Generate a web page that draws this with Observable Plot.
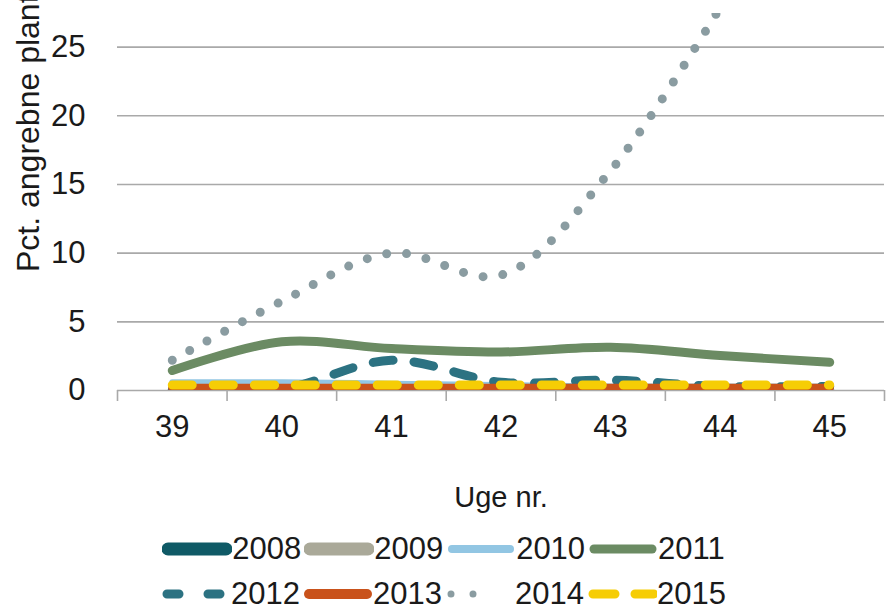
<!DOCTYPE html>
<html><head><meta charset="utf-8">
<script src="https://cdn.jsdelivr.net/npm/d3@7"></script>
<script src="https://cdn.jsdelivr.net/npm/@observablehq/plot@0.6"></script>
<style>
body{margin:0;background:#fff;font-family:"Liberation Sans",Arial,sans-serif;}
#legend{width:890px;padding-top:6px}
.row{display:flex;justify-content:center;align-items:center;height:45px}
.item{display:flex;align-items:center}
.item span{font-size:31px;color:#1a1a1a;margin-right:3px;line-height:1}
</style></head><body><div id="chart"></div><div id="legend"></div>
<script>
const weeks = [39, 40, 41, 42, 43, 44, 45];
const yTicks = [0, 5, 10, 15, 20, 25];
const years = ["2008","2009","2010","2011","2012","2013","2014","2015"];
const v2008 = [0, 0, 0, 0, 0, 0, 0];
const v2009 = [0, 0, 0, 0, 0, 0, 0];
const v2010 = [0.6, 0.6, 0.5, 0.4, 0.3, 0.3, 0.3];
const v2011 = [1.45, 3.55, 3.05, 2.8, 3.15, 2.55, 2.05];
const v2012 = [0, 0.1, 2.2, 0.6, 0.75, 0.3, 0.3];
const v2013 = [0.2, 0.2, 0.2, 0.2, 0.2, 0.2, 0.2];
const v2014 = [2.2, 6.5, 10.0, 8.4, 16.0, 27.9, null];
const v2015 = [0.4, 0.4, 0.4, 0.4, 0.4, 0.4, 0.4];
const xLabel = "Uge nr.";
const yLabel = "Pct. angrebne planter";

const values = {2008: v2008, 2009: v2009, 2010: v2010, 2011: v2011, 2012: v2012, 2013: v2013, 2014: v2014, 2015: v2015};
const styles = {
  2008: {stroke: "#0f5a66", w: 9, dash: null, leg: {w: 13, dash: null}},
  2009: {stroke: "#aaa999", w: 9, dash: null, leg: {w: 13, dash: null}},
  2010: {stroke: "#92c6e3", w: 6, dash: null, leg: {w: 8, dash: null}},
  2011: {stroke: "#6b8b63", w: 9, dash: null, leg: {w: 9, dash: null}},
  2012: {stroke: "#2c7282", w: 9, dash: "20 21", leg: {w: 9, dash: "12 29", x2: 60}},
  2013: {stroke: "#c9521b", w: 8, dash: null, leg: {w: 10, dash: null}},
  2014: {stroke: "#8a9ca1", w: 9, dash: "0 20", leg: {w: 7, dash: "0 22", x2: 50}},
  2015: {stroke: "#f6cd05", w: 9, dash: "20 21", leg: {w: 9, dash: "22 20", x2: 67}}
};

const lineMarks = years.map(y => {
  const data = weeks.map((w, i) => ({week: w, value: values[y][i]}));
  const s = styles[y];
  return Plot.line(data, {
    x: "week", y: "value", stroke: s.stroke, strokeWidth: s.w,
    strokeDasharray: s.dash || undefined, strokeLinecap: "round", strokeLinejoin: "round",
    curve: "catmull-rom", clip: true
  });
});

const bounds = weeks.map(w => w - 0.5).concat([weeks[weeks.length - 1] + 0.5]);

const chart = Plot.plot({
  width: 890, height: 520,
  marginLeft: 117, marginRight: 6, marginTop: 13, marginBottom: 130,
  x: {type: "linear", domain: [bounds[0], bounds[bounds.length - 1]], axis: null},
  y: {domain: [0, 27.45], axis: null},
  style: {fontFamily: "'Liberation Sans', Arial, sans-serif", fontSize: "30px", color: "#1a1a1a", background: "#fff", overflow: "visible"},
  marks: [
    Plot.gridY(yTicks, {stroke: "#a9a9a9", strokeOpacity: 1, strokeWidth: 1.6}),
    Plot.ruleX(bounds, {y1: 0, y2: 0, insetBottom: -11, stroke: "#a9a9a9", strokeWidth: 1.6}),
    Plot.axisY({ticks: yTicks, tickSize: 0, tickPadding: 32, fontSize: 31, label: null}),
    Plot.axisX({ticks: weeks, tickSize: 0, tickPadding: 24, fontSize: 31, label: null, tickFormat: d => String(d)}),
    ...lineMarks,
    Plot.text([xLabel], {text: d => d, frameAnchor: "bottom", dy: 107, fontSize: 29, lineAnchor: "middle"}),
    Plot.text([yLabel], {text: d => d, frameAnchor: "left", rotate: -90, dx: -89, dy: 70, textAnchor: "start", lineAnchor: "middle", fontSize: 32})
  ]
});
document.getElementById("chart").appendChild(chart);

// legend
const legend = document.getElementById("legend");
[years.slice(0, 4), years.slice(4)].forEach(row => {
  const r = document.createElement("div");
  r.className = "row";
  row.forEach(y => {
    const s = styles[y];
    const it = document.createElement("div");
    it.className = "item";
    const x2 = s.leg.x2 || 64;
    it.innerHTML = `<svg width="70" height="20"><line x1="6" y1="10" x2="${x2}" y2="10" stroke="${s.stroke}" stroke-width="${s.leg.w}" stroke-linecap="round" ${s.leg.dash ? `stroke-dasharray="${s.leg.dash}"` : ""}/></svg><span>${y}</span>`;
    r.appendChild(it);
  });
  legend.appendChild(r);
});
</script>
</body></html>
